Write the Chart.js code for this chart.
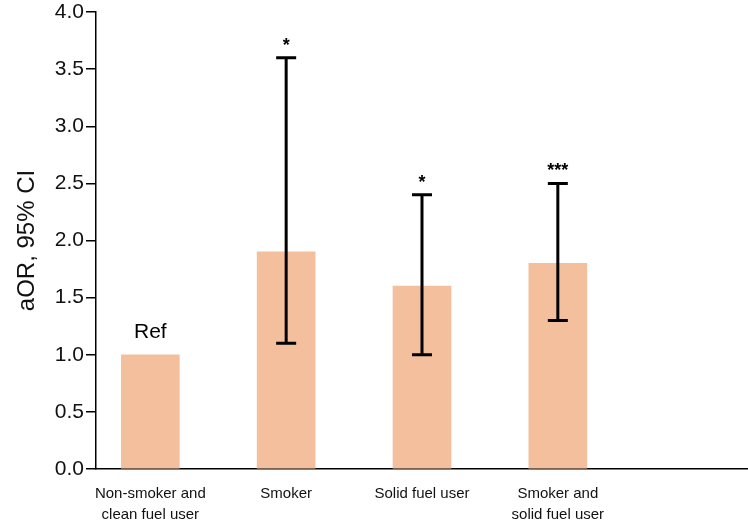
<!DOCTYPE html>
<html>
<head>
<meta charset="UTF-8">
<title>aOR chart</title>
<script src="https://cdn.jsdelivr.net/npm/chart.js@4/dist/chart.umd.min.js"></script>
<style>
  body { margin: 0; background: #fff; }
  #wrap { width: 748px; height: 527px; }
</style>
</head>
<body>
<div id="wrap"><canvas id="chart" width="748" height="527"></canvas></div>
<script>
// data
var groups = [["Non-smoker and", "clean fuel user"], "Smoker", "Solid fuel user", ["Smoker and", "solid fuel user"]];
var aor = [1.0, 1.9, 1.6, 1.8];
var ciLow = [null, 1.1, 1.0, 1.3];
var ciHigh = [null, 3.6, 2.4, 2.5];
var marks = ["Ref", "*", "*", "***"];
var yTicks = [0, 0.5, 1, 1.5, 2, 2.5, 3, 3.5, 4];

var points = aor.map(function(v, i) { return { x: i, y: v }; });
var FONT = "'Liberation Sans', Arial, sans-serif";

var errorBars = {
  id: "errorBars",
  afterDatasetsDraw: function(chart) {
    var ctx = chart.ctx, xs = chart.scales.x, ys = chart.scales.y;
    ctx.save();
    ctx.strokeStyle = "#000";
    ctx.lineWidth = 3;
    ctx.fillStyle = "#000";
    ctx.textAlign = "center";
    ctx.textBaseline = "bottom";
    for (var i = 0; i < aor.length; i++) {
      var x = xs.getPixelForValue(i);
      if (ciLow[i] !== null) {
        var y1 = ys.getPixelForValue(ciLow[i]);
        var y2 = ys.getPixelForValue(ciHigh[i]);
        ctx.beginPath();
        ctx.moveTo(x, y1); ctx.lineTo(x, y2);
        ctx.moveTo(x - 10, y1); ctx.lineTo(x + 10, y1);
        ctx.moveTo(x - 10, y2); ctx.lineTo(x + 10, y2);
        ctx.stroke();
        ctx.font = "bold 18px " + FONT;
        ctx.fillText(marks[i], x, y2 - 3);
      } else {
        ctx.font = "21px " + FONT;
        ctx.fillText(marks[i], x, ys.getPixelForValue(aor[i]) - 12);
      }
    }
    ctx.restore();
  }
};

new Chart(document.getElementById("chart"), {
  type: "bar",
  data: {
    datasets: [{
      data: points,
      backgroundColor: "#F3BF9D",
      barThickness: 58
    }]
  },
  options: {
    responsive: false,
    animation: false,
    layout: { padding: { top: 0, right: 0, left: 13, bottom: 3 } },
    plugins: { legend: { display: false }, tooltip: { enabled: false } },
    scales: {
      x: {
        type: "linear",
        offset: false,
        min: -0.4,
        max: 4.4,
        afterBuildTicks: function(axis) {
          axis.ticks = [0, 1, 2, 3].map(function(v) { return { value: v }; });
        },
        afterFit: function(axis) { axis.height = 55; },
        grid: { display: false, drawTicks: false },
        border: { display: true, color: "#000", width: 1.5 },
        ticks: {
          color: "#111",
          font: { size: 15, family: FONT, lineHeight: 1.4 },
          padding: 14,
          maxRotation: 0,
          autoSkip: false,
          callback: function(v) { return groups[v]; }
        }
      },
      y: {
        min: 0,
        max: 4,
        afterBuildTicks: function(axis) {
          axis.ticks = yTicks.map(function(v) { return { value: v }; });
        },
        afterFit: function(axis) { axis.paddingTop = 12; },
        grid: { drawOnChartArea: false, drawTicks: true, tickLength: 10, color: "#000", lineWidth: 1.5 },
        border: { display: true, color: "#000", width: 1.5 },
        ticks: {
          color: "#111",
          font: { size: 21, family: FONT },
          padding: 2,
          callback: function(v) { return v.toFixed(1); }
        },
        title: {
          display: true,
          text: "aOR, 95% CI",
          color: "#111",
          font: { size: 24, family: FONT },
          padding: { top: 0, bottom: 11 }
        }
      }
    }
  },
  plugins: [errorBars]
});
</script>
</body>
</html>
